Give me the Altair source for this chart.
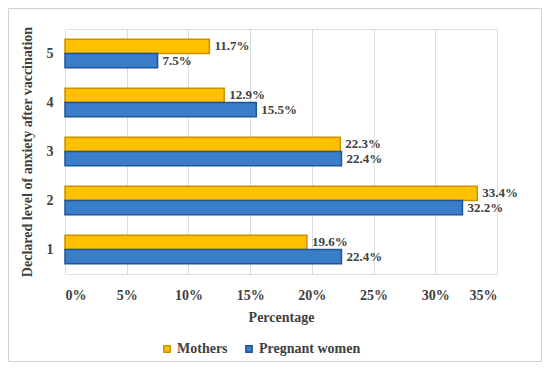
import altair as alt
import pandas as pd

levels = ["1", "2", "3", "4", "5"]
mothers = [19.6, 33.4, 22.3, 12.9, 11.7]
pregnant = [22.4, 32.2, 22.4, 15.5, 7.5]
series = ["Mothers", "Pregnant women"]
colors = ["#FFC000", "#3A7DC9"]
strokes = ["#C79300", "#1F5596"]

rows = []
for lv, m, p in zip(levels, mothers, pregnant):
    rows.append({"level": lv, "series": "Mothers", "value": m / 100})
    rows.append({"level": lv, "series": "Pregnant women", "value": p / 100})
df = pd.DataFrame(rows)

FONT = "Liberation Serif, Times New Roman, serif"

y = alt.Y("level:N", sort=levels[::-1],
          scale=alt.Scale(paddingInner=0.42, paddingOuter=0.21),
          axis=alt.Axis(title="Declared level of anxiety  after vaccination",
                        titleFont=FONT, titleFontSize=14, titleFontWeight="bold",
                        titleColor="#404040", titlePadding=12,
                        labelFont=FONT, labelFontSize=14, labelFontWeight="bold",
                        labelColor="#404040", labelPadding=12,
                        domain=False, ticks=False, grid=False))
x = alt.X("value:Q",
          scale=alt.Scale(domain=[0, 0.35], nice=False),
          axis=alt.Axis(title="Percentage", format=".0%", values=[0, .05, .1, .15, .2, .25, .3, .35],
                        titleFont=FONT, titleFontSize=14, titleFontWeight="bold",
                        titleColor="#404040", titlePadding=8,
                        labelFont=FONT, labelFontSize=14, labelFontWeight="bold",
                        labelColor="#404040", labelPadding=14,
                        domain=False, ticks=False, grid=True,
                        gridColor="#DCDCDC", gridWidth=1))
yoff = alt.YOffset("series:N", sort=series)

bars = alt.Chart(df).mark_bar(strokeWidth=1.5).encode(
    x=x, y=y, yOffset=yoff,
    color=alt.Color("series:N", sort=series,
                    scale=alt.Scale(domain=series, range=colors),
                    legend=alt.Legend(title=None, orient="none", direction="horizontal",
                                      legendX=95, legendY=313,
                                      symbolType="square", symbolSize=40,
                                      labelFont=FONT, labelFontSize=14, labelFontWeight="bold",
                                      labelColor="#404040", columnPadding=14, labelOffset=3)),
    stroke=alt.Stroke("series:N", sort=series,
                      scale=alt.Scale(domain=series, range=strokes), legend=None),
)

labels = alt.Chart(df).mark_text(align="left", dx=5, font=FONT, fontSize=13,
                                 fontWeight="bold", color="#404040").encode(
    x=x, y=y, yOffset=yoff,
    text=alt.Text("value:Q", format=".1%"),
)

frame = alt.Chart(pd.DataFrame({"a": [0]}))
bc = "#D0D0D0"
L, R, T, B = -56.5, 476.5, -20.5, 332.5
b_top = frame.mark_rule(color=bc, strokeWidth=1).encode(
    x=alt.value(L), x2=alt.value(R), y=alt.value(T))
b_bot = frame.mark_rule(color=bc, strokeWidth=1).encode(
    x=alt.value(L), x2=alt.value(R), y=alt.value(B))
b_left = frame.mark_rule(color=bc, strokeWidth=1).encode(
    y=alt.value(T), y2=alt.value(B), x=alt.value(L))
b_right = frame.mark_rule(color=bc, strokeWidth=1).encode(
    y=alt.value(T), y2=alt.value(B), x=alt.value(R))

chart = alt.layer(b_top, b_bot, b_left, b_right, bars, labels).properties(
    width=432, height=245,
    padding={"left": 57, "top": 21, "right": 45, "bottom": 88},
    autosize=alt.AutoSizeParams(type="none"),
).configure_view(stroke=None).configure(background="white")

chart.save("out.html", embed_options={"renderer": "svg", "actions": False})
